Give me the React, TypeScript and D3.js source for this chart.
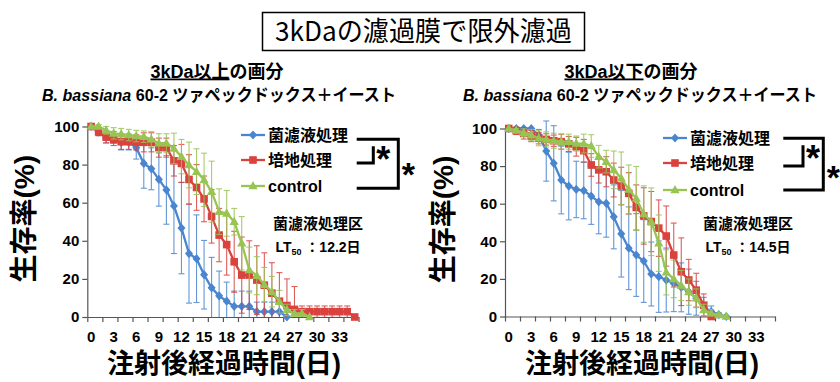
import React, { useEffect, useRef } from 'react';
import * as d3 from 'd3';

// categories: days after injection (one category per day)
const DAYS = [0, 1, 2, 3, 4, 5, 6, 7, 8, 9, 10, 11, 12, 13, 14, 15, 16, 17, 18, 19, 20, 21, 22, 23, 24, 25, 26, 27, 28, 29, 30, 31, 32, 33, 34, 35];
const X_LABELS = [0, 3, 6, 9, 12, 15, 18, 21, 24, 27, 30, 33];
const Y_TICKS = [0, 20, 40, 60, 80, 100];
const SERIES_NAMES = ['菌濾液処理', '培地処理', 'control'];
const COLORS = ['#4A85D0', '#D9423E', '#98C454'];
const MARKERS = ['diamond', 'square', 'triangle'];

// 3kDa以上の画分
const upperFiltrate = [100, 97.2, 94.4, 94.4, 91.7, 91.7, 88.9, 80.6, 77.8, 72.2, 66.7, 58.3, 46.7, 33.3, 30.6, 22.2, 15.3, 11.1, 8.3, 5.6, 5.6, 5.6, 2.8, 2.8, 2.8, 2.8, 0];
const upperFiltrateSd = [0, 2, 3, 3, 4, 4, 6, 13, 11, 14, 18, 25, 24, 26, 23, 18, 16, 13, 10, 8, 8, 8, 5, 5, 5, 5, 0];
const upperMedium = [100, 97.2, 94.4, 93, 92, 92, 91.7, 91.7, 91.7, 88.9, 88.9, 82, 80.6, 72.2, 68, 62, 52.8, 43, 38, 29, 22, 22, 19.4, 16.7, 12.5, 8.3, 6, 4, 2.8, 2.8, 2.8, 2.8, 2.8, 2.8, 2.8, 0];
const upperMediumSd = [0, 2, 3, 3, 4, 4, 4, 5, 5, 5, 5, 8, 10, 13, 12, 12, 14, 14, 16, 16, 20, 18, 18, 17, 16, 15, 14, 12, 3, 3, 3, 3, 3, 3, 3, 0];
const upperControl = [100, 100, 98, 96.4, 96, 95.5, 95, 94.7, 93.3, 91.2, 91.2, 88.5, 84.2, 79.8, 76.3, 72, 65.8, 55.3, 54.4, 50, 38.7, 24.7, 21.7, 17, 13.3, 8, 3.7, 1.9, 1.9, 0];
const upperControlSd = [0, 1, 2, 3, 3, 3, 3, 3, 4, 5, 5, 8, 9, 12, 12, 14, 16, 12, 12, 7, 14, 12, 10, 9, 8, 6, 3, 2, 2, 0];

// 3kDa以下の画分
const lowerFiltrate = [100, 100, 100, 100, 96.5, 88, 81.5, 72.6, 69.4, 67.6, 67, 64, 61, 60.2, 53, 44, 36.3, 32.7, 29.5, 22.6, 21.2, 19.4, 17.6, 15.5, 13.2, 9.7, 5.2, 2.6, 1, 0];
const lowerFiltrateSd = [0, 0, 0, 0, 3, 16, 20, 18, 18, 15, 15, 15, 17, 18, 17, 23, 22, 22, 22, 17, 19, 17, 15, 13, 12, 9, 5, 3, 1, 0];
const lowerMedium = [100, 98.8, 97.4, 96, 94.8, 94.2, 93.5, 93, 91.8, 90.3, 88.2, 80.6, 78, 77, 72.6, 69.4, 65.5, 58, 53.5, 50.5, 47, 42.8, 32.7, 23.8, 19.4, 14, 6, 0];
const lowerMediumSd = [0, 2, 3, 3, 3, 3, 3, 4, 4, 5, 6, 6, 7, 8, 9, 10, 11, 12, 15, 16, 15, 16, 17, 18, 11, 9, 6, 0];
const lowerControl = [100, 99, 97.8, 96.5, 94.8, 94.2, 93.5, 93, 93, 92, 92, 90.7, 85, 82.4, 78, 73.5, 67.6, 62.8, 54.5, 50.4, 39, 23.5, 20, 16.5, 13, 9.7, 3.5, 1.7, 0.8, 0];
const lowerControlSd = [0, 1, 2, 3, 4, 4, 4, 4, 4, 4, 5, 6, 6, 6, 10, 14, 13, 17, 15, 18, 15, 12, 10, 8, 7, 5, 3, 2, 1, 0];

const LATIN = '"Liberation Sans", Arial, "Noto Sans CJK JP", sans-serif';
const JP = '"Noto Sans CJK JP", sans-serif';

const markerPath = (kind: string) => {
  if (kind === 'diamond') return 'M0,-4.6L4,0L0,4.6L-4,0Z';
  if (kind === 'square') return 'M-3.8,-3.8h7.6v7.6h-7.6Z';
  return 'M0,-5L4.6,3.3L-4.6,3.3Z';
};

interface PanelCfg {
  id: string;
  x0: number; x1: number; yTop: number; yBottom: number;
  series: number[][];
  sds: number[][];
  legendX: number; legendRows: number[];
  bracketX: number; bracketRight: number; bracketTop: number; bracketBottom: number; innerX: number;
  noteX: number; lt: string;
  subX: number; subTitle: string; subLabel: string;
  line2X: number;
  yTitleX: number; xTitleX: number;
}

const panels: PanelCfg[] = [
  {
    id: 'upper', x0: 87.3, x1: 358.5, yTop: 126.5, yBottom: 317,
    series: [upperFiltrate, upperMedium, upperControl],
    sds: [upperFiltrateSd, upperMediumSd, upperControlSd],
    legendX: 241, legendRows: [135, 160, 186],
    bracketX: 356.7, bracketRight: 398.3, bracketTop: 139.3, bracketBottom: 188.3, innerX: 373.3,
    noteX: 318, lt: '12.2日',
    subX: 217, subTitle: '3kDa以上', subLabel: 'の画分',
    line2X: 219,
    yTitleX: 24, xTitleX: 224,
  },
  {
    id: 'lower', x0: 505, x1: 775, yTop: 128.5, yBottom: 316.5,
    series: [lowerFiltrate, lowerMedium, lowerControl],
    sds: [lowerFiltrateSd, lowerMediumSd, lowerControlSd],
    legendX: 663, legendRows: [138, 163, 190],
    bracketX: 783.3, bracketRight: 823.3, bracketTop: 138.3, bracketBottom: 190, innerX: 803,
    noteX: 748, lt: '14.5日',
    subX: 631, subTitle: '3kDa以下', subLabel: 'の画分',
    line2X: 640,
    yTitleX: 443, xTitleX: 642,
  },
];

function drawPanel(svg: d3.Selection<SVGSVGElement, unknown, null, undefined>, p: PanelCfg) {
  const x = d3.scaleLinear().domain([0, DAYS.length]).range([p.x0, p.x1]);
  const cx = (d: number) => x(d + 0.5);
  const y = d3.scaleLinear().domain([0, 100]).range([p.yBottom, p.yTop]);

  const g = svg.append('g');

  // clip for error bars
  g.append('clipPath').attr('id', `clip-${p.id}`)
    .append('rect')
    .attr('x', p.x0).attr('y', p.yTop - 12)
    .attr('width', p.x1 - p.x0 + 10).attr('height', p.yBottom - p.yTop + 12);

  // axes
  const xAxis = d3.axisBottom(x).tickValues(d3.range(0, DAYS.length + 1, 2)).tickSize(5).tickSizeOuter(0).tickFormat(() => '');
  const xg = g.append('g').attr('transform', `translate(0,${p.yBottom})`).call(xAxis);
  xg.attr('color', '#555').selectAll('line, path').attr('stroke-width', 1.2);

  const yAxis = d3.axisLeft(y).tickValues(Y_TICKS).tickSize(5).tickSizeOuter(0).tickPadding(3);
  const yg = g.append('g').attr('transform', `translate(${p.x0},0)`).call(yAxis);
  yg.attr('color', '#555').selectAll('line, path').attr('stroke-width', 1.2);
  yg.selectAll('text')
    .attr('fill', '#000')
    .attr('font-family', LATIN)
    .attr('font-weight', 'bold')
    .attr('font-size', 15);

  g.append('g').selectAll('text')
    .data(X_LABELS)
    .join('text')
    .attr('x', d => cx(d))
    .attr('y', p.yBottom + 25)
    .attr('text-anchor', 'middle')
    .attr('font-family', LATIN)
    .attr('font-weight', 'bold')
    .attr('font-size', 15)
    .text(d => d);

  // series
  const line = d3.line<number>().x((_, i) => cx(DAYS[i])).y(v => y(v));
  p.series.forEach((vals, si) => {
    const color = COLORS[si];
    const sd = p.sds[si];
    const eb = g.append('g').attr('clip-path', `url(#clip-${p.id})`).attr('stroke', color).attr('stroke-width', 1.1).attr('opacity', 0.85);
    vals.forEach((v, i) => {
      if (!sd[i]) return;
      const xx = cx(DAYS[i]);
      eb.append('line').attr('x1', xx).attr('x2', xx).attr('y1', y(v + sd[i])).attr('y2', y(v - sd[i]));
      eb.append('line').attr('x1', xx - 3).attr('x2', xx + 3).attr('y1', y(v + sd[i])).attr('y2', y(v + sd[i]));
      eb.append('line').attr('x1', xx - 3).attr('x2', xx + 3).attr('y1', y(v - sd[i])).attr('y2', y(v - sd[i]));
    });
    g.append('path').datum(vals)
      .attr('d', line)
      .attr('fill', 'none')
      .attr('stroke', color)
      .attr('stroke-width', 2.3)
      .attr('stroke-linejoin', 'round');
    g.append('g').selectAll('path')
      .data(vals)
      .join('path')
      .attr('transform', (v, i) => `translate(${cx(DAYS[i])},${y(v)})`)
      .attr('d', markerPath(MARKERS[si]))
      .attr('fill', color);

    // legend
    const ly = p.legendRows[si];
    g.append('line').attr('x1', p.legendX).attr('x2', p.legendX + 24).attr('y1', ly).attr('y2', ly)
      .attr('stroke', color).attr('stroke-width', 2.3);
    g.append('path').attr('transform', `translate(${p.legendX + 12},${ly})`).attr('d', markerPath(MARKERS[si])).attr('fill', color);
    g.append('text').attr('x', p.legendX + 27).attr('y', ly + 5.5)
      .attr('font-family', LATIN).attr('font-weight', 'bold').attr('font-size', 16)
      .text(SERIES_NAMES[si]);
  });

  // significance brackets
  const midY = p.legendRows[1] + 3;
  g.append('path')
    .attr('d', `M${p.bracketX},${p.bracketTop}H${p.bracketRight}V${p.bracketBottom}H${p.bracketX}`)
    .attr('fill', 'none').attr('stroke', '#000').attr('stroke-width', 3);
  g.append('path')
    .attr('d', `M${p.bracketX},${midY}H${p.innerX}V${p.bracketTop + 7}`)
    .attr('fill', 'none').attr('stroke', '#000').attr('stroke-width', 3);
  g.append('text').attr('x', p.innerX + 10).attr('y', p.bracketTop + 33)
    .attr('text-anchor', 'middle').attr('font-family', LATIN).attr('font-weight', 'bold').attr('font-size', 36).text('*');
  g.append('text').attr('x', p.bracketRight + 10).attr('y', midY + 23)
    .attr('text-anchor', 'middle').attr('font-family', LATIN).attr('font-weight', 'bold').attr('font-size', 34).text('*');

  // LT50 note
  g.append('text').attr('x', p.noteX).attr('y', 229)
    .attr('text-anchor', 'middle').attr('font-family', LATIN).attr('font-weight', 'bold').attr('font-size', 15)
    .text('菌濾液処理区');
  const lt = g.append('text').attr('x', p.noteX).attr('y', 252)
    .attr('text-anchor', 'middle').attr('font-family', LATIN).attr('font-weight', 'bold').attr('font-size', 14);
  lt.append('tspan').text('LT');
  lt.append('tspan').attr('font-size', 9).attr('dy', 3).text('50');
  lt.append('tspan').attr('dy', -3).text(' ：' + p.lt);

  // subtitles
  const s1 = g.append('text').attr('x', p.subX).attr('y', 77.5)
    .attr('text-anchor', 'middle').attr('font-family', LATIN).attr('font-weight', 'bold').attr('font-size', 18);
  s1.append('tspan').attr('text-decoration', 'underline').text(p.subTitle);
  s1.append('tspan').text(p.subLabel);

  const s2 = g.append('text').attr('x', p.line2X).attr('y', 101)
    .attr('text-anchor', 'middle').attr('font-family', LATIN).attr('font-weight', 'bold').attr('font-size', 17)
    .attr('textLength', 354).attr('lengthAdjust', 'spacingAndGlyphs');
  s2.append('tspan').attr('font-style', 'italic').text('B. bassiana');
  s2.append('tspan').text(' 60-2 ツァペックドックス＋イースト');

  // axis titles
  g.append('text')
    .attr('transform', `translate(${p.yTitleX},${(p.yTop + p.yBottom) / 2 - 3}) rotate(-90)`)
    .attr('text-anchor', 'middle').attr('dominant-baseline', 'central')
    .attr('font-family', LATIN).attr('font-weight', 'bold').attr('font-size', 28)
    .text('生存率(%)');
  g.append('text').attr('x', p.xTitleX).attr('y', 373)
    .attr('text-anchor', 'middle').attr('font-family', LATIN).attr('font-weight', 'bold').attr('font-size', 27)
    .text('注射後経過時間(日)');
}

export default function App() {
  const svgRef = useRef<SVGSVGElement>(null);

  useEffect(() => {
    if (!svgRef.current) return;
    const svg = d3.select(svgRef.current);
    svg.selectAll('*').remove();

    svg.append('rect').attr('width', 840).attr('height', 382).attr('fill', '#fff');

    // boxed main title
    svg.append('rect').attr('x', 262.5).attr('y', 12.5).attr('width', 322).attr('height', 38)
      .attr('fill', 'none').attr('stroke', '#000').attr('stroke-width', 1.5);
    svg.append('text').attr('x', 423.5).attr('y', 41)
      .attr('text-anchor', 'middle').attr('font-family', JP).attr('font-size', 27)
      .attr('textLength', 297).attr('lengthAdjust', 'spacingAndGlyphs')
      .text('3kDaの濾過膜で限外濾過');

    panels.forEach(p => drawPanel(svg, p));
  }, []);

  return (
    <div style={{ position: 'absolute', left: 0, top: 0, width: 840, height: 382, background: '#fff' }}>
      <svg ref={svgRef} width={840} height={382}></svg>
    </div>
  );
}
